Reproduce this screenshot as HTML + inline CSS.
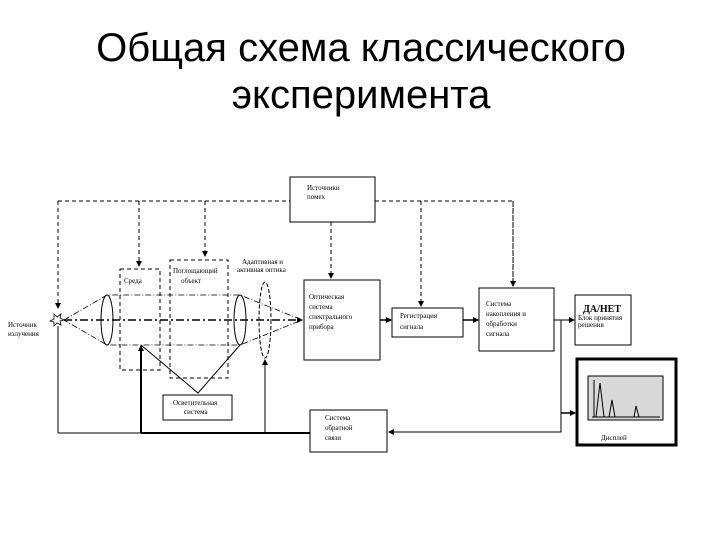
<!DOCTYPE html>
<html><head><meta charset="utf-8"><style>
body{margin:0;background:#fff;width:720px;height:540px;overflow:hidden}
svg{display:block}
.t{font-family:"Liberation Serif",serif;font-size:7px;fill:#000}
</style></head><body>
<svg width="720" height="540" viewBox="0 0 720 540">
<defs><marker id="a" markerWidth="6" markerHeight="6" refX="5" refY="3" orient="auto" markerUnits="userSpaceOnUse"><path d="M0,0L6,3L0,6z" fill="#000"/></marker></defs>
<text x="361" y="61" text-anchor="middle" font-family="Liberation Sans,sans-serif" font-size="40">Общая схема классического</text>
<text x="361" y="108" text-anchor="middle" font-family="Liberation Sans,sans-serif" font-size="40">эксперимента</text>
<g fill="none" stroke="#000" stroke-width="1">
<g stroke-dasharray="4,3">
<path d="M58,201H290M375,201H513V284" />
<path d="M58,201V308" marker-end="url(#a)"/>
<path d="M139,201V266" marker-end="url(#a)"/>
<path d="M205,201V256" marker-end="url(#a)"/>
<path d="M331,222V278" marker-end="url(#a)"/>
<path d="M421,201V306" marker-end="url(#a)"/>
<path d="M513,201V286" marker-end="url(#a)"/>
<rect x="120" y="269" width="40" height="101"/>
<rect x="170" y="260" width="58" height="118"/>
</g>
<rect x="290" y="177" width="85" height="45"/>
<rect x="304" y="280" width="76" height="80"/>
<rect x="392" y="308" width="71" height="29"/>
<rect x="479" y="288" width="75" height="63"/>
<rect x="575" y="295" width="56" height="50"/>
<rect x="577" y="359" width="99" height="86" stroke-width="3"/>
<rect x="588" y="376" width="75" height="44" fill="#d9d9d9"/>
<rect x="163" y="395" width="69" height="25"/>
<rect x="310" y="410" width="77" height="42"/>
<ellipse cx="107" cy="320" rx="6" ry="25"/>
<ellipse cx="240" cy="320" rx="6" ry="25"/>
<ellipse cx="265" cy="320" rx="6" ry="38" stroke-dasharray="4,2"/>
<g stroke-dasharray="6,2,1,2" stroke-width="0.8">
<path d="M64,320L107,295H240L302,320L240,345H107Z"/>
</g>
<path d="M64,320H302" stroke-width="1.6" stroke-dasharray="8,3,2,3" marker-end="url(#a)"/>
<path d="M141,345L198,393L240,345"/>
<path d="M58,433V326"/>
<path d="M58,433H310"/>
<path d="M141,433H310" stroke-width="2"/>
<path d="M141,433V346" stroke-width="2" marker-end="url(#a)"/>
<path d="M265,433V360" marker-end="url(#a)"/>
<path d="M380,320H391" stroke-width="1.5" marker-end="url(#a)"/>
<path d="M463,320H478" stroke-width="1.5" marker-end="url(#a)"/>
<path d="M554,320H574" marker-end="url(#a)"/>
<path d="M561,320V432H389" marker-end="url(#a)"/>
<path d="M561,413H575" stroke-width="1.5" marker-end="url(#a)"/>
<path d="M594,380V417M592,417H660"/>
<path d="M596,417L600,383L604,417M609,417L612,400L615,417M634,417L636,406L639,417"/>
</g>
<path d="M54,314l3,3l4,-3l-1,4l4,2l-4,1l1,4l-4,-2l-3,3l0,-4l-4,-1l4,-2z" fill="none" stroke="#000" stroke-width="0.8"/>
<text class="t" x="307" y="190">Источники</text><text class="t" x="307" y="199">помех</text>
<text class="t" x="124" y="283">Среда</text>
<text class="t" x="173" y="273">Поглощающий</text><text class="t" x="181" y="283">объект</text>
<text class="t" x="242" y="264">Адаптивная и</text><text class="t" x="237" y="272">активная оптика</text>
<text class="t" x="309" y="299">Оптическая</text><text class="t" x="309" y="309">система</text><text class="t" x="309" y="319">спектрального</text><text class="t" x="309" y="329">прибора</text>
<text class="t" x="400" y="318">Регистрация</text><text class="t" x="400" y="329">сигнала</text>
<text class="t" x="486" y="306">Система</text><text class="t" x="486" y="316">накопления и</text><text class="t" x="486" y="326">обработки</text><text class="t" x="486" y="336">сигнала</text>
<text x="583" y="312" font-family="Liberation Serif,serif" font-size="10" font-weight="bold">ДА/НЕТ</text>
<text class="t" x="578" y="320" font-size="5">Блок принятия</text><text class="t" x="578" y="327" font-size="5">решения</text>
<text class="t" x="601" y="440">Дисплей</text>
<text class="t" x="8" y="327">Источник</text><text class="t" x="8" y="336">излучения</text>
<text class="t" x="173" y="405">Осветительная</text><text class="t" x="184" y="414">система</text>
<text class="t" x="325" y="420">Система</text><text class="t" x="325" y="430">обратной</text><text class="t" x="325" y="440">связи</text>
</svg>
</body></html>
